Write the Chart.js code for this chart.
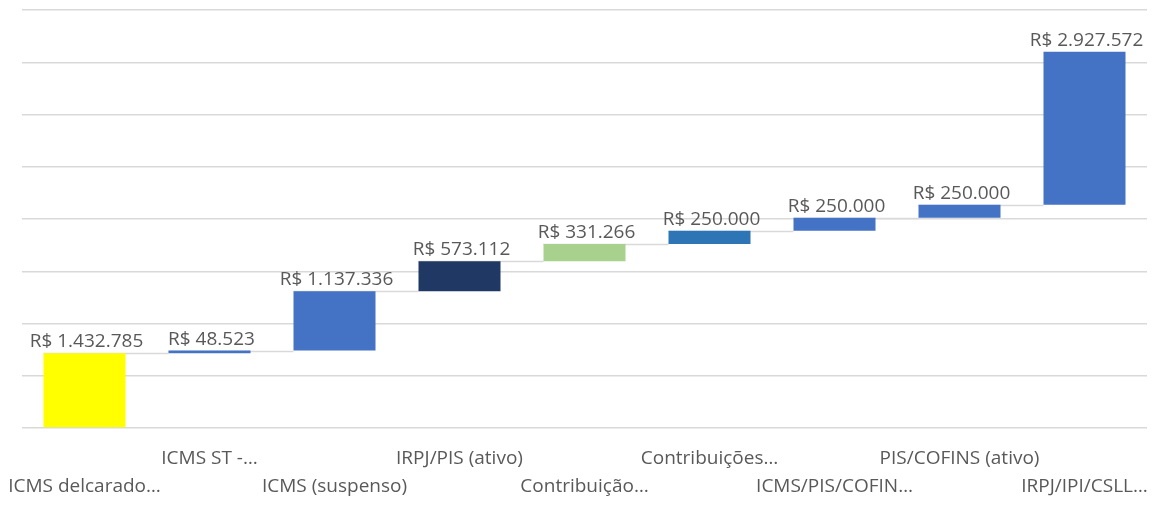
<!DOCTYPE html>
<html>
<head>
<meta charset="utf-8">
<script src="https://cdn.jsdelivr.net/npm/chart.js@4/dist/chart.umd.min.js"></script>
<style>
  html, body { margin: 0; padding: 0; background: #fff; }
  #wrap { width: 1152px; height: 505px; }
</style>
</head>
<body>
<div id="wrap"><canvas id="waterfall"></canvas></div>
<script>
// categories and values
const categories = ['ICMS delcarado…', 'ICMS ST -…', 'ICMS (suspenso)', 'IRPJ/PIS (ativo)', 'Contribuição…',
    'Contribuições…', 'ICMS/PIS/COFIN…', 'PIS/COFINS (ativo)', 'IRPJ/IPI/CSLL…'];
const increments = [1432785, 48523, 1137336, 573112, 331266, 250000, 250000, 250000, 2927572];
const barColors = ['#FFFF00', '#4472C4', '#4472C4', '#203864', '#A9D18E', '#2E75B6', '#4472C4', '#4472C4', '#4472C4'];
const yMin = 0;
const yMax = 8000000;
const yStep = 1000000;

// money format like "R$ 1.432.785"
function fmt(v) {
    return 'R$ ' + String(v).replace(/\B(?=(\d{3})+(?!\d))/g, '.');
}

// build floating ranges for the waterfall
let running = 0;
const ranges = increments.map(v => {
    const r = [running, running + v];
    running += v;
    return r;
});

// stagger labels in two rows: odd indices on top line, even on the bottom one
const tickLabels = categories.map((c, i) => i % 2 === 1 ? [c, ''] : ['', c]);

const textFont = '"Open Sans", "Liberation Sans", sans-serif';

// connector lines and value labels
const waterfallExtras = {
    id: 'waterfallExtras',
    beforeDatasetsDraw(chart) {
        const ctx = chart.ctx;
        const meta = chart.getDatasetMeta(0);
        const y = chart.scales.y;
        ctx.save();
        ctx.strokeStyle = '#D9D9D9';
        ctx.lineWidth = 1.5;
        for (let i = 0; i < meta.data.length - 1; i++) {
            const a = meta.data[i], b = meta.data[i + 1];
            const py = Math.round(y.getPixelForValue(ranges[i][1])) + 0.5;
            ctx.beginPath();
            ctx.moveTo(a.x - a.width / 2, py);
            ctx.lineTo(b.x - b.width / 2, py);
            ctx.stroke();
        }
        ctx.restore();
    },
    afterDatasetsDraw(chart) {
        const ctx = chart.ctx;
        const meta = chart.getDatasetMeta(0);
        const y = chart.scales.y;
        ctx.save();
        ctx.font = '19px ' + textFont;
        ctx.fillStyle = '#595959';
        ctx.textAlign = 'center';
        ctx.textBaseline = 'bottom';
        meta.data.forEach((bar, i) => {
            const top = y.getPixelForValue(ranges[i][1]);
            ctx.fillText(fmt(increments[i]), bar.x + 2, top - 2);
        });
        ctx.restore();
    }
};

const chart = new Chart(document.getElementById('waterfall'), {
    type: 'bar',
    data: {
        labels: tickLabels,
        datasets: [{
            data: ranges,
            backgroundColor: barColors,
            borderWidth: 0,
            barPercentage: 0.656,
            categoryPercentage: 1
        }]
    },
    options: {
        responsive: true,
        maintainAspectRatio: false,
        animation: false,
        layout: { padding: { left: 22, right: 5, top: 10, bottom: 0 } },
        plugins: {
            legend: { display: false },
            tooltip: { enabled: false }
        },
        scales: {
            x: {
                grid: { display: false, drawTicks: false },
                border: { display: false },
                afterFit(scale) {
                    scale.height = 77;
                    scale.paddingLeft = 0;
                    scale.paddingRight = 0;
                },
                ticks: {
                    autoSkip: false,
                    maxRotation: 0,
                    minRotation: 0,
                    padding: 17,
                    color: '#595959',
                    font: { family: textFont, size: 19, lineHeight: 1.474 }
                }
            },
            y: {
                min: yMin,
                max: yMax,
                ticks: { display: false, stepSize: yStep },
                grid: { color: '#D9D9D9', lineWidth: 1.5, drawTicks: false },
                border: { display: false }
            }
        }
    },
    plugins: [waterfallExtras]
});
</script>
</body>
</html>
